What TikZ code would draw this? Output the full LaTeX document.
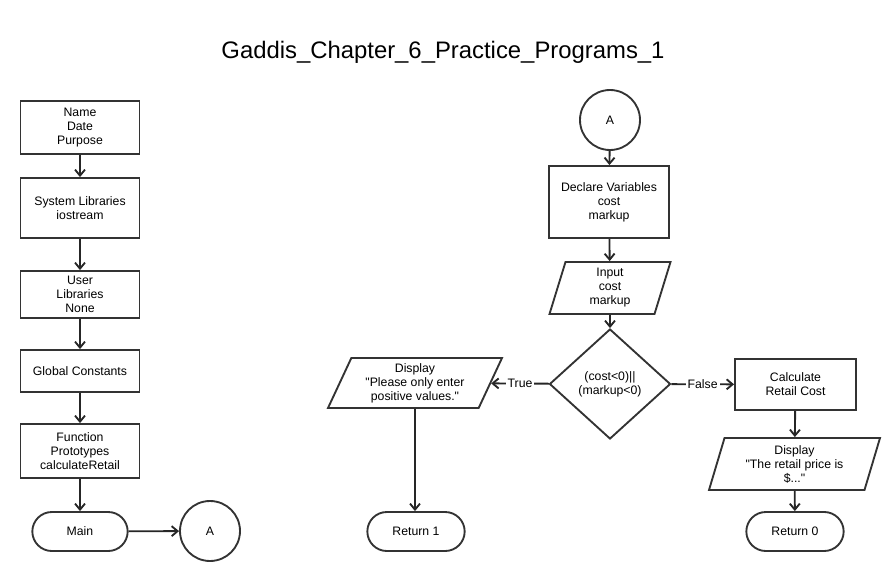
\documentclass[tikz,border=0pt]{standalone}
\usepackage{fontspec}
\setmainfont{Liberation Sans}
\usetikzlibrary{arrows.meta,shapes.geometric,shapes.misc}
\tikzset{%
  base/.style={draw=black!80,line width=1.4pt,align=center,inner sep=1pt,
    font=\fontsize{9.2}{10.5}\selectfont},
  proc/.style={base,rectangle,minimum width=#1},
  proc/.default=89.25pt,
  io/.style={base,trapezium,trapezium left angle=#1,trapezium right angle=180-#1,
    trapezium stretches body},
  term/.style={base,rounded rectangle,minimum height=29.25pt},
  conn/.style={base,circle,minimum size=45pt},
  decision/.style={base,diamond,minimum width=90.75pt,minimum height=82.5pt},
  flow/.style={draw=black!85,line width=1.4pt,-{Straight Barb[length=4.5pt,width=7.5pt]}}
}
\begin{document}
\begin{tikzpicture}[x=0.75pt,y=-0.75pt]
  \useasboundingbox (0,0) rectangle (885,581);
  \node[font=\fontsize{17.9}{21}\selectfont] (title) at (443,52)
    {Gaddis\_Chapter\_6\_Practice\_Programs\_1};
  %%% left column
  \node[proc,minimum height=39.75pt] (l0) at (80,127.5) {Name\\Date\\Purpose};
  \node[proc,minimum height=45pt] (l1) at (80,208) {System Libraries\\iostream};
  \node[proc,minimum height=35.25pt] (l2) at (80,294.5) {User\\Libraries\\None};
  \node[proc,minimum height=31.5pt] (l3) at (80,371) {Global Constants};
  \node[proc,minimum height=40.5pt] (l4) at (80,451) {Function\\Prototypes\\calculateRetail};
  \node[term,minimum width=73.5pt] (lm) at (80,531.5) {Main};
  \node[conn] (la) at (210,531) {A};
  \draw[flow] (l0) -- (l1);
  \draw[flow] (l1) -- (l2);
  \draw[flow] (l2) -- (l3);
  \draw[flow] (l3) -- (l4);
  \draw[flow] (l4) -- (lm);
  \draw[flow] (lm) -- (la);
  %%% main flow
  \node[conn] (ra) at (610,120) {A};
  \node[proc=90pt,minimum height=54pt] (r0) at (609,202) {Declare Variables\\cost\\markup};
  \node[io=69,minimum width=90.75pt,minimum height=39pt] (r1) at (610,288)
    {Input\\cost\\markup};
  \node[decision] (d0) at (610,384) {(cost<0)||\\(markup<0)};
  \node[io=61,minimum width=130.5pt,minimum height=37.5pt] (r2) at (415,383)
    {Display\\\textquotedbl Please only enter\\positive values.\textquotedbl};
  \node[proc=90.75pt,minimum height=38.25pt] (r3) at (795.5,384.5) {Calculate\\Retail Cost};
  \node[io=69,minimum width=128.25pt,minimum height=39pt] (r4) at (794.5,464)
    {Display\\\textquotedbl The retail price is\\\$...\textquotedbl};
  \node[term,minimum width=75pt] (e1) at (416,531.5) {Return 1};
  \node[term,minimum width=75pt] (e0) at (795,531.5) {Return 0};
  \draw[flow] (ra) -- (r0);
  \draw[flow] (r0) -- (r1);
  \draw[flow] (r1) -- (d0);
  \draw[flow] (d0) -- node[fill=white,inner sep=1.5pt,font=\fontsize{9.2}{10.5}\selectfont] {True} (r2);
  \draw[flow] (d0) -- node[fill=white,inner sep=1.5pt,font=\fontsize{9.2}{10.5}\selectfont] {False} (r3);
  \draw[flow] (r2) -- (r2 |- e1.north);
  \draw[flow] (r3) -- (r4);
  \draw[flow] (r4) -- (e0);
\end{tikzpicture}
\end{document}
